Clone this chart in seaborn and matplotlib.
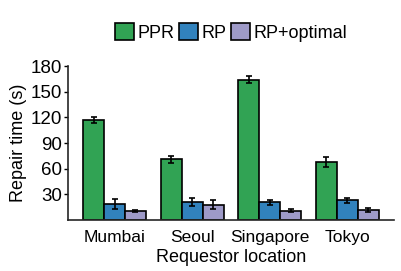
import pandas as pd
import numpy as np
import matplotlib.pyplot as plt
import seaborn as sns

# values
locations = ['Mumbai', 'Seoul', 'Singapore', 'Tokyo']
methods = ['PPR', 'RP', 'RP+optimal']
ppr = [117, 71, 164, 68]
rp = [19, 21, 21, 23]
rp_opt = [11, 18, 11, 12]
ppr_err = [3, 4, 4, 6]
rp_err = [6, 5, 3, 3]
rp_opt_err = [1, 5.5, 1.5, 2.5]

colors = ['#31a354', '#3182bd', '#9e9ac8']

rows = []
for m, vals, errs in zip(methods, [ppr, rp, rp_opt], [ppr_err, rp_err, rp_opt_err]):
    for loc, v, e in zip(locations, vals, errs):
        rows.append({'loc': loc, 'method': m, 'time': v, 'err': e})
df = pd.DataFrame(rows)

sns.set_style('ticks')
plt.rcParams['font.family'] = ['Liberation Sans', 'DejaVu Sans']
plt.rcParams['text.color'] = 'black'
plt.rcParams['axes.labelcolor'] = 'black'
plt.rcParams['xtick.color'] = 'black'
plt.rcParams['ytick.color'] = 'black'

fig = plt.figure(figsize=(4.02, 2.71), dpi=100)
ax = fig.add_axes([0.169, 0.188, 0.811, 0.568])

sns.barplot(data=df, x='loc', y='time', hue='method', order=locations,
            hue_order=methods, palette=colors, errorbar=None, width=0.81,
            edgecolor='black', linewidth=1.2, saturation=1, ax=ax)

# error bars on each bar
for cont, m in zip(ax.containers, methods):
    sub = df[df['method'] == m].set_index('loc').loc[locations]
    xs = [p.get_x() + p.get_width() / 2 for p in cont.patches]
    ax.errorbar(xs, sub['time'], yerr=sub['err'], fmt='none', ecolor='black',
                elinewidth=1.2, capsize=2.5, capthick=1.2)

ax.set_ylim(0, 180)
ax.set_xlim(-0.6, 3.6)
ax.set_yticks([30, 60, 90, 120, 150, 180])
ax.tick_params(axis='y', labelsize=13.5, length=3, width=1, pad=1)
ax.tick_params(axis='x', labelsize=12.5, length=0, pad=7)
ax.set_xlabel('Requestor location', fontsize=13, labelpad=3)
ax.set_ylabel('Repair time (s)', fontsize=13, labelpad=3)
for s in ['left', 'bottom']:
    ax.spines[s].set_linewidth(1.2)
sns.despine(ax=ax)

handles, labels = ax.get_legend_handles_labels()
ax.legend(handles, labels, loc='lower center', bbox_to_anchor=(0.5, 1.11),
          ncol=3, frameon=False, fontsize=13, handlelength=1.05,
          handleheight=1.05, handletextpad=0.2, columnspacing=0.25,
          borderaxespad=0)

fig.savefig('out.png', dpi=100)
